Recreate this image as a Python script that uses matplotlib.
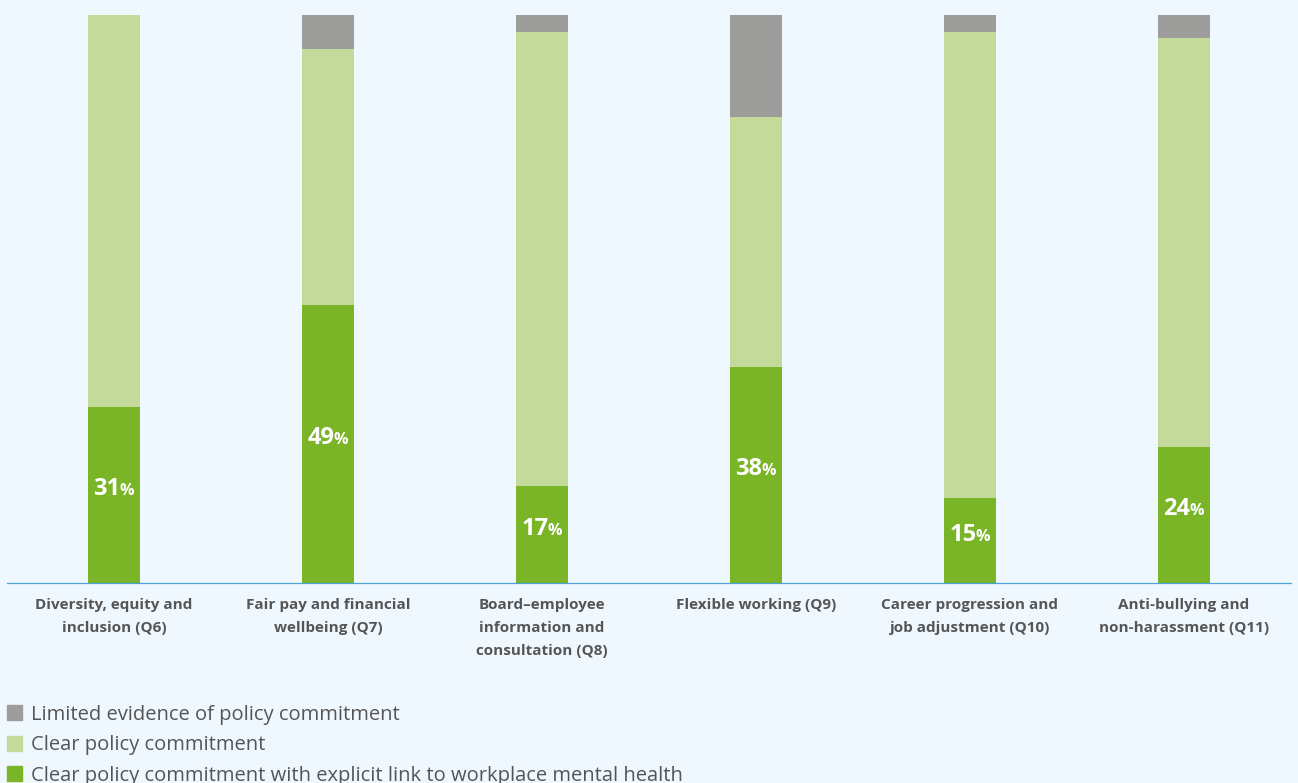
import matplotlib.pyplot as plt
from matplotlib.patches import Patch

categories = [
    "Diversity, equity and\ninclusion (Q6)",
    "Fair pay and financial\nwellbeing (Q7)",
    "Board\u2013employee\ninformation and\nconsultation (Q8)",
    "Flexible working (Q9)",
    "Career progression and\njob adjustment (Q10)",
    "Anti-bullying and\nnon-harassment (Q11)",
]
explicit_link = [31, 49, 17, 38, 15, 24]
clear_policy = [69, 45, 80, 44, 82, 72]
limited = [0, 6, 3, 18, 3, 4]

series_names = [
    "Limited evidence of policy commitment",
    "Clear policy commitment",
    "Clear policy commitment with explicit link to workplace mental health",
]

bg = "#F0F8FF"
c_dark = "#7AB427"
c_light = "#C4DA9A"
c_gray = "#9D9D9B"
txt = "#555555"

fig = plt.figure(figsize=(12.98, 7.83), dpi=100, facecolor=bg)
ax = fig.add_axes([0.0054, 0.2554, 0.9892, 0.7254], facecolor=bg)

x = range(len(categories))
w = 0.247
ax.bar(x, explicit_link, w, color=c_dark)
bottom2 = [a for a in explicit_link]
ax.bar(x, clear_policy, w, bottom=bottom2, color=c_light)
bottom3 = [a + b for a, b in zip(explicit_link, clear_policy)]
ax.bar(x, limited, w, bottom=bottom3, color=c_gray)

# value labels, number big and % small
for i, v in enumerate(explicit_link):
    y = v / 2 + 1
    ax.annotate(str(v), xy=(i, y), xytext=(4.5, 0), textcoords="offset points",
                ha="right", va="center", color="white", fontsize=17,
                fontweight="bold", family="Open Sans")
    ax.annotate("%", xy=(i, y), xytext=(4.3, -1.3), textcoords="offset points",
                ha="left", va="center", color="white", fontsize=11.5,
                fontweight="bold", family="Open Sans")

ax.set_xlim(-0.5, 5.5)
ax.set_ylim(0, 100)
for s in ["top", "right", "left"]:
    ax.spines[s].set_visible(False)
ax.spines["bottom"].set_color("#4AA3D6")
ax.spines["bottom"].set_linewidth(0.9)
ax.set_yticks([])
ax.set_xticks(list(x))
ax.set_xticklabels(categories, fontsize=11, fontweight="bold", color=txt,
                   family="Open Sans", linespacing=1.8)
ax.tick_params(axis="x", length=0, pad=11)

handles = [Patch(color=c) for c in [c_gray, c_light, c_dark]]
fig.legend(handles, series_names, loc="upper left", bbox_to_anchor=(7 / 1298, 0.1),
           frameon=False, labelcolor=txt, handlelength=0.75,
           handleheight=0.75, handletextpad=0.45, labelspacing=0.52,
           borderpad=0, borderaxespad=0,
           prop={"family": "Open Sans", "size": 14.5})

fig.savefig("out.png", dpi=100, facecolor=bg)
